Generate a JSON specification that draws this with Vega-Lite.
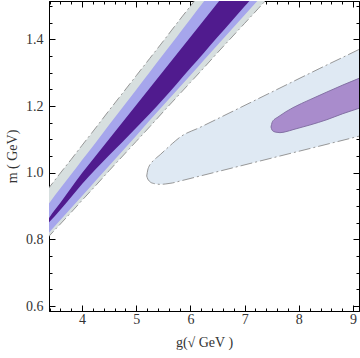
{
  "$schema": "https://vega.github.io/schema/vega-lite/v6.json",
  "width": 310,
  "height": 310,
  "autosize": "none",
  "padding": {"left": 49, "top": 1, "right": 1, "bottom": 47},
  "background": "white",
  "config": {
    "view": {"stroke": "black", "strokeWidth": 1},
    "axis": {
      "domainColor": "black",
      "tickColor": "black",
      "grid": false,
      "labelFont": "Liberation Serif",
      "labelFontSize": 14,
      "labelColor": "#333333",
      "titleFont": "Liberation Serif",
      "titleFontSize": 14,
      "titleFontWeight": "normal",
      "titleColor": "#333333"
    }
  },
  "datasets": {
    "band": [
      {"k": "G", "x": 3.35, "lo": 0.802, "hi": 0.947},
      {"k": "G", "x": 3.4, "lo": 0.811, "hi": 0.957},
      {"k": "G", "x": 3.6, "lo": 0.846, "hi": 0.999},
      {"k": "G", "x": 3.8, "lo": 0.881, "hi": 1.040},
      {"k": "G", "x": 4.0, "lo": 0.917, "hi": 1.082},
      {"k": "G", "x": 4.25, "lo": 0.961, "hi": 1.134},
      {"k": "G", "x": 4.5, "lo": 1.006, "hi": 1.187},
      {"k": "G", "x": 4.75, "lo": 1.050, "hi": 1.239},
      {"k": "G", "x": 5.0, "lo": 1.094, "hi": 1.291},
      {"k": "G", "x": 5.25, "lo": 1.138, "hi": 1.343},
      {"k": "G", "x": 5.5, "lo": 1.183, "hi": 1.395},
      {"k": "G", "x": 5.75, "lo": 1.227, "hi": 1.448},
      {"k": "G", "x": 6.0, "lo": 1.271, "hi": 1.500},
      {"k": "G", "x": 6.25, "lo": 1.315, "hi": 1.552},
      {"k": "G", "x": 6.5, "lo": 1.360, "hi": 1.604},
      {"k": "G", "x": 6.75, "lo": 1.404, "hi": 1.656},
      {"k": "G", "x": 7.0, "lo": 1.448, "hi": 1.708},
      {"k": "G", "x": 7.25, "lo": 1.492, "hi": 1.760},
      {"k": "G", "x": 7.5, "lo": 1.537, "hi": 1.812},
      {"k": "P", "x": 3.35, "lo": 0.813, "hi": 0.899},
      {"k": "P", "x": 3.4, "lo": 0.822, "hi": 0.910},
      {"k": "P", "x": 3.6, "lo": 0.858, "hi": 0.953},
      {"k": "P", "x": 3.8, "lo": 0.894, "hi": 0.995},
      {"k": "P", "x": 4.0, "lo": 0.930, "hi": 1.038},
      {"k": "P", "x": 4.25, "lo": 0.976, "hi": 1.090},
      {"k": "P", "x": 4.5, "lo": 1.021, "hi": 1.144},
      {"k": "P", "x": 4.75, "lo": 1.066, "hi": 1.196},
      {"k": "P", "x": 5.0, "lo": 1.111, "hi": 1.249},
      {"k": "P", "x": 5.25, "lo": 1.157, "hi": 1.302},
      {"k": "P", "x": 5.5, "lo": 1.202, "hi": 1.355},
      {"k": "P", "x": 5.75, "lo": 1.247, "hi": 1.408},
      {"k": "P", "x": 6.0, "lo": 1.292, "hi": 1.461},
      {"k": "P", "x": 6.25, "lo": 1.338, "hi": 1.514},
      {"k": "P", "x": 6.5, "lo": 1.383, "hi": 1.567},
      {"k": "P", "x": 6.75, "lo": 1.428, "hi": 1.620},
      {"k": "P", "x": 7.0, "lo": 1.473, "hi": 1.673},
      {"k": "P", "x": 7.25, "lo": 1.518, "hi": 1.726},
      {"k": "P", "x": 7.5, "lo": 1.563, "hi": 1.779},
      {"k": "D", "x": 3.35, "lo": 0.845, "hi": 0.852},
      {"k": "D", "x": 3.4, "lo": 0.853, "hi": 0.866},
      {"k": "D", "x": 3.6, "lo": 0.889, "hi": 0.910},
      {"k": "D", "x": 3.8, "lo": 0.927, "hi": 0.955},
      {"k": "D", "x": 4.0, "lo": 0.966, "hi": 0.999},
      {"k": "D", "x": 4.25, "lo": 1.010, "hi": 1.050},
      {"k": "D", "x": 4.5, "lo": 1.052, "hi": 1.101},
      {"k": "D", "x": 4.75, "lo": 1.093, "hi": 1.152},
      {"k": "D", "x": 5.0, "lo": 1.135, "hi": 1.203},
      {"k": "D", "x": 5.25, "lo": 1.177, "hi": 1.254},
      {"k": "D", "x": 5.5, "lo": 1.221, "hi": 1.305},
      {"k": "D", "x": 5.75, "lo": 1.267, "hi": 1.356},
      {"k": "D", "x": 6.0, "lo": 1.314, "hi": 1.407},
      {"k": "D", "x": 6.25, "lo": 1.360, "hi": 1.458},
      {"k": "D", "x": 6.5, "lo": 1.407, "hi": 1.509},
      {"k": "D", "x": 6.75, "lo": 1.453, "hi": 1.560},
      {"k": "D", "x": 7.0, "lo": 1.499, "hi": 1.611},
      {"k": "D", "x": 7.25, "lo": 1.545, "hi": 1.662},
      {"k": "D", "x": 7.5, "lo": 1.591, "hi": 1.713}
    ],
    "ell": [
      {"k": "E", "x": 5.193, "lo": 0.990, "hi": 0.990},
      {"k": "E", "x": 5.212, "lo": 0.981, "hi": 1.008},
      {"k": "E", "x": 5.239, "lo": 0.975, "hi": 1.020},
      {"k": "E", "x": 5.276, "lo": 0.970, "hi": 1.029},
      {"k": "E", "x": 5.313, "lo": 0.968, "hi": 1.036},
      {"k": "E", "x": 5.368, "lo": 0.966, "hi": 1.044},
      {"k": "E", "x": 5.442, "lo": 0.965, "hi": 1.054},
      {"k": "E", "x": 5.534, "lo": 0.966, "hi": 1.068},
      {"k": "E", "x": 5.663, "lo": 0.969, "hi": 1.087},
      {"k": "E", "x": 5.811, "lo": 0.975, "hi": 1.107},
      {"k": "E", "x": 6.179, "lo": 0.990, "hi": 1.136},
      {"k": "E", "x": 6.916, "lo": 1.020, "hi": 1.195},
      {"k": "E", "x": 7.652, "lo": 1.050, "hi": 1.254},
      {"k": "E", "x": 8.389, "lo": 1.080, "hi": 1.313},
      {"k": "E", "x": 9.126, "lo": 1.110, "hi": 1.371},
      {"k": "E", "x": 9.2, "lo": 1.113, "hi": 1.377},
      {"k": "I", "x": 7.486, "lo": 1.137, "hi": 1.137},
      {"k": "I", "x": 7.505, "lo": 1.128, "hi": 1.150},
      {"k": "I", "x": 7.542, "lo": 1.123, "hi": 1.159},
      {"k": "I", "x": 7.597, "lo": 1.121, "hi": 1.165},
      {"k": "I", "x": 7.652, "lo": 1.120, "hi": 1.171},
      {"k": "I", "x": 7.763, "lo": 1.123, "hi": 1.183},
      {"k": "I", "x": 7.892, "lo": 1.129, "hi": 1.195},
      {"k": "I", "x": 8.204, "lo": 1.143, "hi": 1.219},
      {"k": "I", "x": 8.518, "lo": 1.159, "hi": 1.242},
      {"k": "I", "x": 8.812, "lo": 1.177, "hi": 1.263},
      {"k": "I", "x": 9.125, "lo": 1.194, "hi": 1.284},
      {"k": "I", "x": 9.2, "lo": 1.198, "hi": 1.289}
    ]
  },
  "resolve": {"axis": {"x": "independent", "y": "independent"}},
  "layer": [
    {
      "data": {"name": "ell"},
      "transform": [{"filter": "datum.k === 'E'"}],
      "mark": {"type": "area", "color": "#dfe9f3", "clip": true, "interpolate": "monotone"},
      "encoding": {
        "x": {"field": "x", "type": "quantitative", "scale": {"domain": [3.39, 9.11], "nice": false, "zero": false},
          "axis": {
            "orient": "bottom",
            "values": [3.4,3.6,3.8,4,4.2,4.4,4.6,4.8,5,5.2,5.4,5.6,5.8,6,6.2,6.4,6.6,6.8,7,7.2,7.4,7.6,7.8,8,8.2,8.4,8.6,8.8,9],
            "labelExpr": "abs(datum.value-round(datum.value))<0.001 ? format(datum.value,'d') : ''",
            "tickSize": {"condition": {"test": "abs(datum.value-round(datum.value))<0.001", "value": -6}, "value": -3},
            "labelPadding": 7,
            "title": "g(√ GeV )",
            "titlePadding": 9
          }},
        "y": {"field": "lo", "type": "quantitative", "scale": {"domain": [0.585, 1.515], "nice": false, "zero": false},
          "axis": {
            "orient": "left",
            "values": [0.6,0.65,0.7,0.75,0.8,0.85,0.9,0.95,1,1.05,1.1,1.15,1.2,1.25,1.3,1.35,1.4,1.45,1.5],
            "labelExpr": "abs(datum.value*5-round(datum.value*5))<0.001 ? format(datum.value,'.1f') : ''",
            "tickSize": {"condition": {"test": "abs(datum.value*5-round(datum.value*5))<0.001", "value": -6}, "value": -3},
            "labelPadding": 12,
            "title": "m ( GeV)",
            "titlePadding": 6
          }},
        "y2": {"field": "hi"}
      }
    },
    {
      "data": {"name": "ell"},
      "transform": [{"filter": "datum.k === 'I'"}],
      "mark": {"type": "area", "color": "#a98ccc", "clip": true, "interpolate": "monotone"},
      "encoding": {
        "x": {"field": "x", "type": "quantitative", "scale": {"domain": [3.39, 9.11], "nice": false, "zero": false}, "axis": null},
        "y": {"field": "lo", "type": "quantitative", "scale": {"domain": [0.585, 1.515], "nice": false, "zero": false}, "axis": null},
        "y2": {"field": "hi"}
      }
    },
    {
      "data": {"name": "band"},
      "transform": [{"filter": "datum.k === 'G'"}],
      "mark": {"type": "area", "color": "#d7dfdf", "clip": true, "interpolate": "monotone"},
      "encoding": {
        "x": {"field": "x", "type": "quantitative", "scale": {"domain": [3.39, 9.11], "nice": false, "zero": false}, "axis": null},
        "y": {"field": "lo", "type": "quantitative", "scale": {"domain": [0.585, 1.515], "nice": false, "zero": false}, "axis": null},
        "y2": {"field": "hi"}
      }
    },
    {
      "data": {"name": "band"},
      "transform": [{"filter": "datum.k === 'P'"}],
      "mark": {"type": "area", "color": "#a6a6ec", "clip": true, "interpolate": "monotone"},
      "encoding": {
        "x": {"field": "x", "type": "quantitative", "scale": {"domain": [3.39, 9.11], "nice": false, "zero": false}, "axis": null},
        "y": {"field": "lo", "type": "quantitative", "scale": {"domain": [0.585, 1.515], "nice": false, "zero": false}, "axis": null},
        "y2": {"field": "hi"}
      }
    },
    {
      "data": {"name": "band"},
      "transform": [{"filter": "datum.k === 'D'"}],
      "mark": {"type": "area", "color": "#501b8e", "clip": true, "interpolate": "monotone"},
      "encoding": {
        "x": {"field": "x", "type": "quantitative", "scale": {"domain": [3.39, 9.11], "nice": false, "zero": false}, "axis": null},
        "y": {"field": "lo", "type": "quantitative", "scale": {"domain": [0.585, 1.515], "nice": false, "zero": false}, "axis": null},
        "y2": {"field": "hi"}
      }
    },
    {
      "data": {"name": "band"},
      "transform": [{"filter": "datum.k === 'G'"}],
      "mark": {"type": "line", "color": "#8c8c8c", "strokeWidth": 0.9, "strokeDash": [10, 3, 2, 3], "clip": true, "interpolate": "monotone"},
      "encoding": {
        "x": {"field": "x", "type": "quantitative", "scale": {"domain": [3.39, 9.11], "nice": false, "zero": false}, "axis": null},
        "y": {"field": "lo", "type": "quantitative", "scale": {"domain": [0.585, 1.515], "nice": false, "zero": false}, "axis": null}
      }
    },
    {
      "data": {"name": "band"},
      "transform": [{"filter": "datum.k === 'G'"}],
      "mark": {"type": "line", "color": "#8c8c8c", "strokeWidth": 0.9, "strokeDash": [10, 3, 2, 3], "clip": true, "interpolate": "monotone"},
      "encoding": {
        "x": {"field": "x", "type": "quantitative", "scale": {"domain": [3.39, 9.11], "nice": false, "zero": false}, "axis": null},
        "y": {"field": "hi", "type": "quantitative", "scale": {"domain": [0.585, 1.515], "nice": false, "zero": false}, "axis": null}
      }
    },
    {
      "data": {"name": "ell"},
      "transform": [{"filter": "datum.k === 'E'"}],
      "mark": {"type": "line", "color": "#8c8c8c", "strokeWidth": 0.9, "strokeDash": [12, 3, 2, 3], "clip": true, "interpolate": "monotone"},
      "encoding": {
        "x": {"field": "x", "type": "quantitative", "scale": {"domain": [3.39, 9.11], "nice": false, "zero": false}, "axis": null},
        "y": {"field": "lo", "type": "quantitative", "scale": {"domain": [0.585, 1.515], "nice": false, "zero": false}, "axis": null}
      }
    },
    {
      "data": {"name": "ell"},
      "transform": [{"filter": "datum.k === 'E'"}],
      "mark": {"type": "line", "color": "#8c8c8c", "strokeWidth": 0.9, "strokeDash": [12, 3, 2, 3], "clip": true, "interpolate": "monotone"},
      "encoding": {
        "x": {"field": "x", "type": "quantitative", "scale": {"domain": [3.39, 9.11], "nice": false, "zero": false}, "axis": null},
        "y": {"field": "hi", "type": "quantitative", "scale": {"domain": [0.585, 1.515], "nice": false, "zero": false}, "axis": null}
      }
    },
    {
      "data": {"name": "ell"},
      "transform": [{"filter": "datum.k === 'I'"}],
      "mark": {"type": "line", "color": "#7d6a9e", "strokeWidth": 0.9, "clip": true, "interpolate": "monotone"},
      "encoding": {
        "x": {"field": "x", "type": "quantitative", "scale": {"domain": [3.39, 9.11], "nice": false, "zero": false}, "axis": null},
        "y": {"field": "lo", "type": "quantitative", "scale": {"domain": [0.585, 1.515], "nice": false, "zero": false}, "axis": null}
      }
    },
    {
      "data": {"name": "ell"},
      "transform": [{"filter": "datum.k === 'I'"}],
      "mark": {"type": "line", "color": "#7d6a9e", "strokeWidth": 0.9, "clip": true, "interpolate": "monotone"},
      "encoding": {
        "x": {"field": "x", "type": "quantitative", "scale": {"domain": [3.39, 9.11], "nice": false, "zero": false},
          "axis": {
            "orient": "top",
            "values": [3.4,3.6,3.8,4,4.2,4.4,4.6,4.8,5,5.2,5.4,5.6,5.8,6,6.2,6.4,6.6,6.8,7,7.2,7.4,7.6,7.8,8,8.2,8.4,8.6,8.8,9],
            "labels": false,
            "title": null,
            "tickSize": {"condition": {"test": "abs(datum.value-round(datum.value))<0.001", "value": -6}, "value": -3}
          }},
        "y": {"field": "hi", "type": "quantitative", "scale": {"domain": [0.585, 1.515], "nice": false, "zero": false},
          "axis": {
            "orient": "right",
            "values": [0.6,0.65,0.7,0.75,0.8,0.85,0.9,0.95,1,1.05,1.1,1.15,1.2,1.25,1.3,1.35,1.4,1.45,1.5],
            "labels": false,
            "title": null,
            "tickSize": {"condition": {"test": "abs(datum.value*5-round(datum.value*5))<0.001", "value": -6}, "value": -3}
          }}
      }
    }
  ]
}
